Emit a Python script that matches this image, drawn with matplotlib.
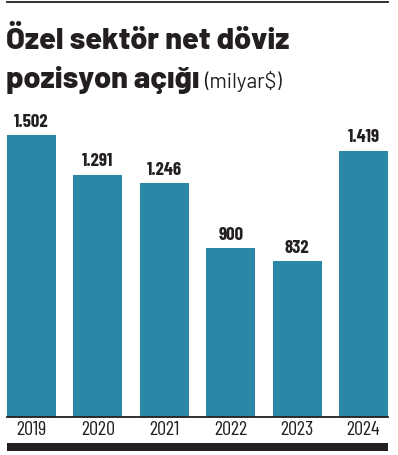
import matplotlib.pyplot as plt

years = ["2019", "2020", "2021", "2022", "2023", "2024"]
values = [1502, 1291, 1246, 900, 832, 1419]
value_labels = ["1.502", "1.291", "1.246", "900", "832", "1.419"]

BAR_COLOR = "#2a88a6"
INK = "#231f20"
W, H = 398, 455
DPI = 100

COND = ["Barlow Condensed", "DejaVu Sans"]
TITLE = ["Barlow", "DejaVu Sans"]


def fx(px):
    return px / W


def fy(py):
    return 1 - py / H


fig = plt.figure(figsize=(W / DPI, H / DPI), dpi=DPI)

bar_w = 0.74
ax = fig.add_axes([fx(7), fy(417), fx(388) - fx(7), fy(100) - fy(417)])
ax.bar(range(len(years)), values, width=bar_w, color=BAR_COLOR)
ax.set_xlim(-bar_w / 2, len(years) - 1 + bar_w / 2)
ax.set_ylim(0, 1502 * 317 / 282)
for i, (v, lab) in enumerate(zip(values, value_labels)):
    ax.annotate(lab, (i, v), xytext=(0, 3), textcoords="offset points",
                ha="center", va="bottom", fontsize=13.5, fontweight="bold",
                family=COND, color=INK)

ax.set_xticks(range(len(years)))
ax.set_xticklabels(years, family=COND, fontsize=14.5, fontweight="normal", color=INK)
ax.tick_params(axis="x", length=0, pad=3)
ax.set_yticks([])
for side in ["top", "left", "right"]:
    ax.spines[side].set_visible(False)
ax.spines["bottom"].set_linewidth(1.3)
ax.spines["bottom"].set_color(INK)

# top rule and bottom bar
fig.add_artist(plt.Line2D([fx(7), fx(388)], [fy(2), fy(2)], color=INK, linewidth=1.3))
fig.add_artist(plt.Rectangle((fx(7), fy(451)), fx(388) - fx(7), fy(443) - fy(451),
                             color=INK, linewidth=0))

fig.text(fx(6), fy(49), "Özel sektör net döviz", fontsize=22, fontweight=800,
         family=TITLE, color=INK, va="baseline", ha="left")
t = fig.text(fx(6), fy(88), "pozisyon açığı", fontsize=22, fontweight=800,
             family=TITLE, color=INK, va="baseline", ha="left")
fig.canvas.draw()
bb = t.get_window_extent()
fig.text(bb.x1 / W + fx(5), fy(88), "(milyar$)", fontsize=15, fontweight="normal",
         family=TITLE, color=INK, va="baseline", ha="left")

fig.savefig("out.png", dpi=DPI)
